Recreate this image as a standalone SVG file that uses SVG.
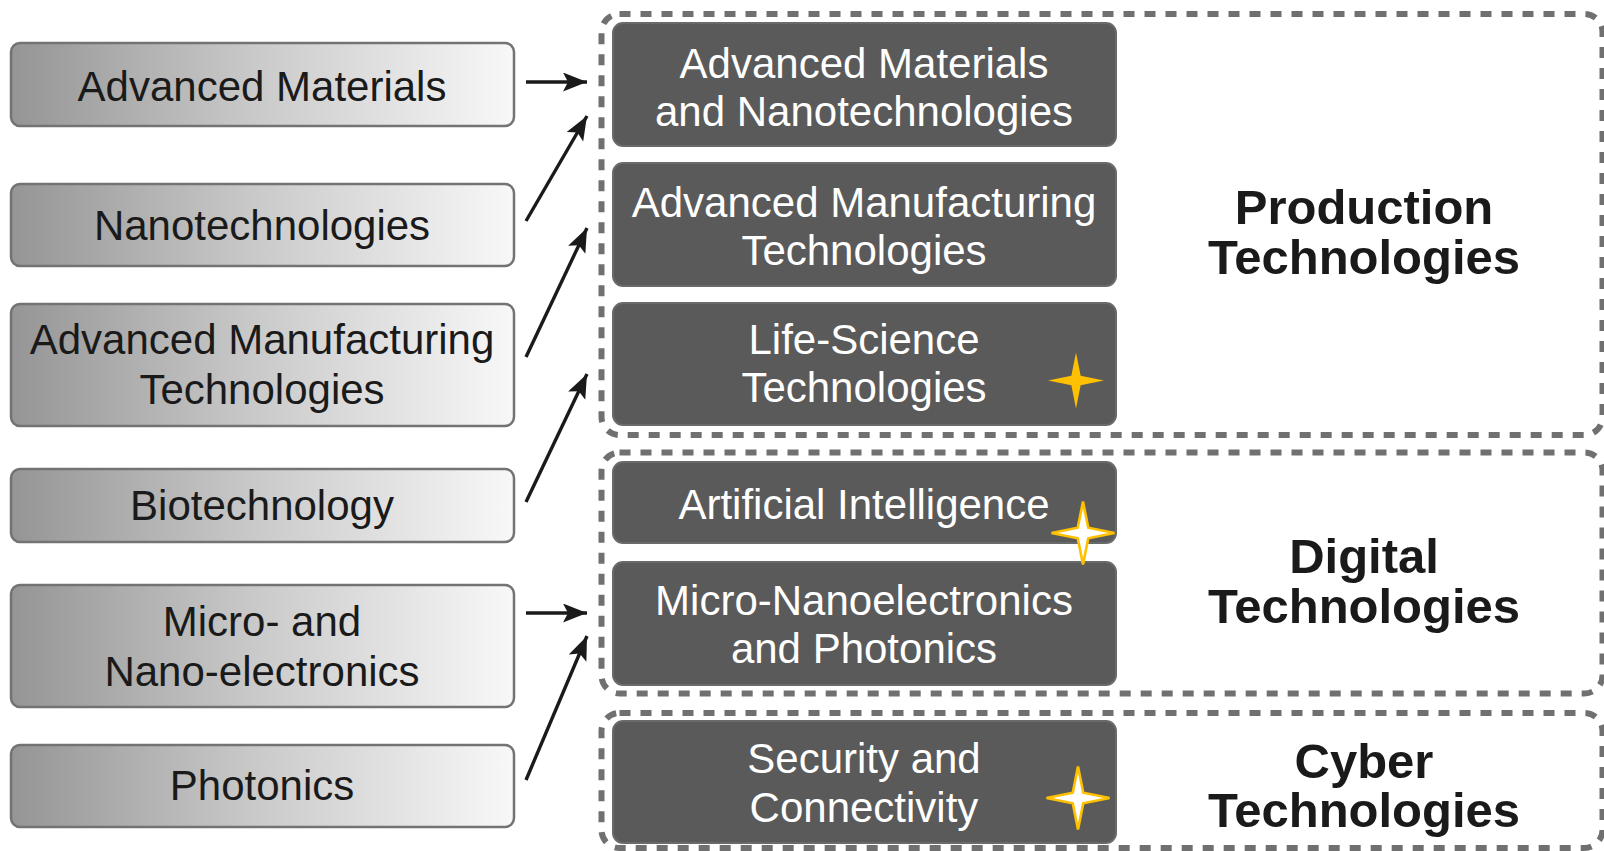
<svg xmlns="http://www.w3.org/2000/svg" width="1604" height="851" viewBox="0 0 1604 851">
<style>
.src rect{fill:url(#lg);stroke:#737373;stroke-width:2.5}
.src text{font-family:"Liberation Sans",Arial,sans-serif;font-size:42px;fill:#1a1a1a;text-anchor:middle}
.tgt rect{fill:#5a5a5a;stroke:#6a6a6a;stroke-width:2}
.tgt text{font-family:"Liberation Sans",Arial,sans-serif;font-size:42px;fill:#ffffff;text-anchor:middle}
.grp rect{fill:none;stroke:#707070;stroke-width:6;stroke-dasharray:11 10}
.grp text{font-family:"Liberation Sans",Arial,sans-serif;font-size:49px;font-weight:bold;fill:#1a1a1a;text-anchor:middle}
.conn line{stroke:#1a1a1a;stroke-width:3.4;marker-end:url(#ah)}
.star-f{fill:#ffc000}
.star-o{fill:#ffffff;stroke:#ffc000;stroke-width:2.5}
</style>
<defs>
<linearGradient id="lg" x1="0" y1="0" x2="1" y2="0">
<stop offset="0" stop-color="#959595"/>
<stop offset="0.5" stop-color="#cbcbcb"/>
<stop offset="1" stop-color="#f8f8f8"/>
</linearGradient>
<marker id="ah" markerUnits="userSpaceOnUse" markerWidth="26" markerHeight="20" refX="24" refY="9.5" orient="auto">
<path d="M0,0 L24,9.5 L0,19 L5,9.5 Z" fill="#1a1a1a"/>
</marker>
<path id="star" d="M0,-30 L5,-5 L30,0 L5,5 L0,30 L-5,5 L-30,0 L-5,-5 Z"/>
</defs>
<rect width="1604" height="851" fill="#ffffff"/>

<g id="groups" class="grp">
<g id="production">
<rect x="601.5" y="14" width="1001" height="421" rx="18"/>
<text x="1364" y="224">Production</text>
<text x="1364" y="274">Technologies</text>
</g>
<g id="digital">
<rect x="601.5" y="452.5" width="1001" height="241" rx="18"/>
<text x="1364" y="573">Digital</text>
<text x="1364" y="623">Technologies</text>
</g>
<g id="cyber">
<rect x="601.5" y="713" width="1001" height="135" rx="18"/>
<text x="1364" y="778">Cyber</text>
<text x="1364" y="827">Technologies</text>
</g>
</g>

<g id="sources" class="src">
<g id="s-advmat"><rect x="11" y="43" width="503" height="83" rx="9"/><text x="262" y="101">Advanced Materials</text></g>
<g id="s-nano"><rect x="11" y="184" width="503" height="82" rx="9"/><text x="262" y="240">Nanotechnologies</text></g>
<g id="s-advman"><rect x="11" y="304" width="503" height="122" rx="9"/><text x="262" y="354">Advanced Manufacturing</text><text x="262" y="404">Technologies</text></g>
<g id="s-bio"><rect x="11" y="469" width="503" height="73" rx="9"/><text x="262" y="520">Biotechnology</text></g>
<g id="s-micro"><rect x="11" y="585" width="503" height="122" rx="9"/><text x="262" y="636">Micro- and</text><text x="262" y="686">Nano-electronics</text></g>
<g id="s-phot"><rect x="11" y="745" width="503" height="82" rx="9"/><text x="262" y="800">Photonics</text></g>
</g>

<g id="targets" class="tgt">
<g id="t-amn"><rect x="613" y="23" width="503" height="123" rx="10"/><text x="864" y="78">Advanced Materials</text><text x="864" y="126">and Nanotechnologies</text></g>
<g id="t-amt"><rect x="613" y="163" width="503" height="123" rx="10"/><text x="864" y="217">Advanced Manufacturing</text><text x="864" y="265">Technologies</text></g>
<g id="t-lst"><rect x="613" y="303" width="503" height="122" rx="10"/><text x="864" y="354">Life-Science</text><text x="864" y="402">Technologies</text></g>
<g id="t-ai"><rect x="613" y="462" width="503" height="81" rx="10"/><text x="864" y="519">Artificial Intelligence</text></g>
<g id="t-mnp"><rect x="613" y="562" width="503" height="123" rx="10"/><text x="864" y="615">Micro-Nanoelectronics</text><text x="864" y="663">and Photonics</text></g>
<g id="t-sec"><rect x="613" y="721" width="503" height="122" rx="10"/><text x="864" y="773">Security and</text><text x="864" y="822">Connectivity</text></g>
</g>

<g id="stars">
<use href="#star" class="star-f" transform="translate(1076,380.5) scale(0.93)"/>
<use href="#star" class="star-o" transform="translate(1083,533) scale(1.05)"/>
<use href="#star" class="star-o" transform="translate(1078,798) scale(1.05)"/>
</g>

<g id="connectors" class="conn">
<line x1="526" y1="82" x2="587" y2="82"/>
<line x1="526" y1="221" x2="587" y2="116"/>
<line x1="526" y1="357" x2="587" y2="228"/>
<line x1="526" y1="502" x2="587" y2="374"/>
<line x1="526" y1="613" x2="587" y2="613"/>
<line x1="526" y1="780" x2="587" y2="636"/>
</g>
</svg>
